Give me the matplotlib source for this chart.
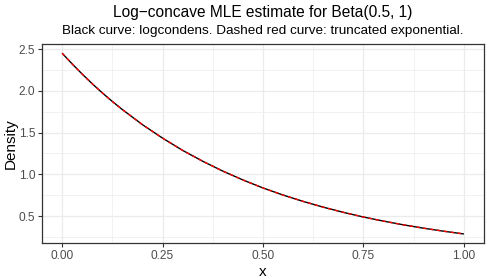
import matplotlib
matplotlib.use("Agg")
import matplotlib.pyplot as plt
import numpy as np

plt.rcParams['font.family'] = ['Liberation Sans', 'DejaVu Sans']

x_vals = [0.00, 0.025, 0.05, 0.075, 0.10, 0.125, 0.15, 0.20, 0.25, 0.30, 0.35, 0.40, 0.45, 0.50,
          0.55, 0.60, 0.65, 0.70, 0.75, 0.80, 0.85, 0.90, 0.95, 1.00]
logcondens = [2.45, 2.322, 2.20, 2.084, 1.975, 1.872, 1.775, 1.594, 1.433, 1.286, 1.156, 1.038, 0.932, 0.836,
              0.751, 0.675, 0.606, 0.544, 0.488, 0.439, 0.394, 0.354, 0.318, 0.285]
trunc_exp = [2.45, 2.322, 2.20, 2.084, 1.975, 1.872, 1.775, 1.594, 1.433, 1.286, 1.156, 1.038, 0.932, 0.836,
             0.751, 0.675, 0.606, 0.544, 0.488, 0.439, 0.394, 0.354, 0.318, 0.285]
x_ticks = [0.00, 0.25, 0.50, 0.75, 1.00]
x_ticklabels = ["0.00", "0.25", "0.50", "0.75", "1.00"]
y_ticks = [0.5, 1.0, 1.5, 2.0, 2.5]
y_ticklabels = ["0.5", "1.0", "1.5", "2.0", "2.5"]

fig = plt.figure(figsize=(4.9, 2.8), dpi=100)
ax = fig.add_axes([42/490, 1-243/280, (484-42)/490, (243-44)/280])

xs = np.array(x_vals)
ax.plot(xs, logcondens, color='black', lw=1.0, solid_capstyle='butt', zorder=3)
ax.plot(xs, trunc_exp, color='#FF0000', lw=1.0, ls=(0, (2.5, 2.5)), zorder=4)

ax.set_xlim(-0.05, 1.05)
ax.set_ylim(0.177, 2.56)
ax.set_xticks(x_ticks)
ax.set_xticklabels(x_ticklabels)
ax.set_yticks(y_ticks)
ax.set_yticklabels(y_ticklabels)
ax.set_xticks([0.125, 0.375, 0.625, 0.875], minor=True)
ax.set_yticks([0.25, 0.75, 1.25, 1.75, 2.25], minor=True)
ax.grid(which='major', color='#EBEBEB', lw=0.9, zorder=0)
ax.grid(which='minor', color='#EBEBEB', lw=0.45, zorder=0)
ax.set_axisbelow(True)
for s in ax.spines.values():
    s.set_color('#333333')
    s.set_linewidth(0.9)
ax.tick_params(which='major', length=3, width=0.8, color='#333333', labelcolor='#4D4D4D', labelsize=8.6, pad=2)
ax.tick_params(which='minor', length=0)
ax.set_xlabel('x', fontsize=11, labelpad=2)
ax.set_ylabel('Density', fontsize=11)
ax.yaxis.label.set_va('center')
ax.yaxis.set_label_coords(-(42-11)/442, 0.5)

fig.text((42+484)/2/490, 1-13/280, 'Log\u2212concave MLE estimate for Beta(0.5, 1)', ha='center', va='center', fontsize=11.2)
fig.text((42+484)/2/490, 1-31/280, 'Black curve: logcondens. Dashed red curve: truncated exponential.', ha='center', va='center', fontsize=9.7)

fig.savefig('out.png', dpi=100)
